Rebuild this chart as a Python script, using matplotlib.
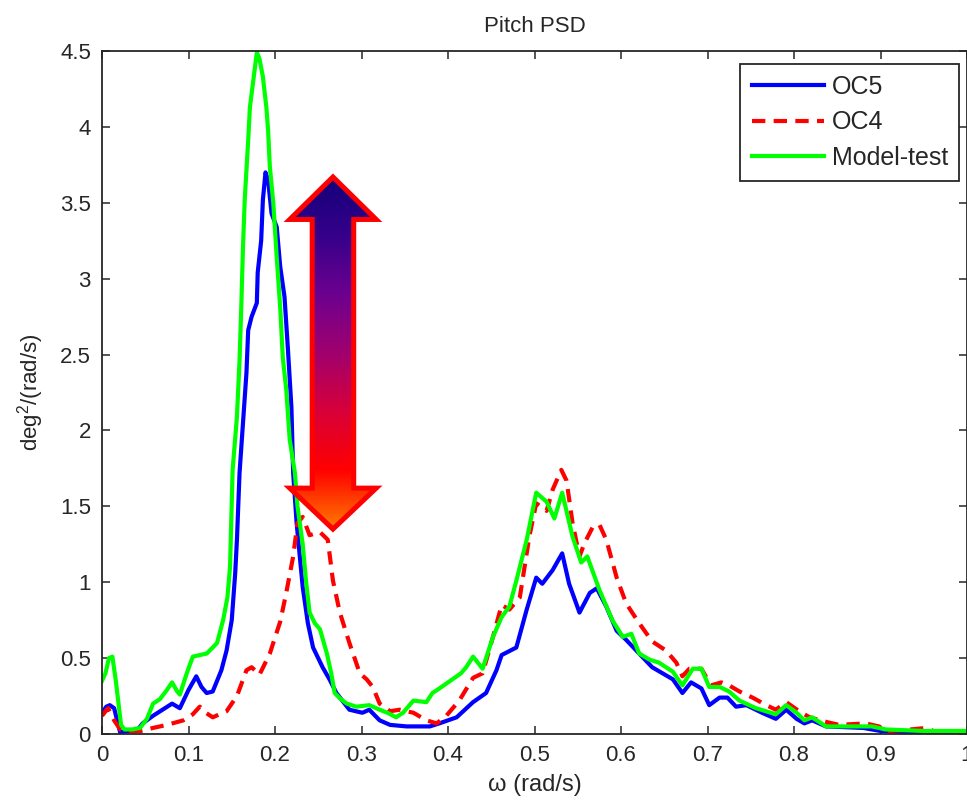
import numpy as np
import matplotlib
matplotlib.use("Agg")
import matplotlib.pyplot as plt
from matplotlib import font_manager as fm
from matplotlib.patches import Polygon
from matplotlib.colors import LinearSegmentedColormap

# OC5 (blue, solid)
oc5_w = [0.0, 0.005, 0.009, 0.014, 0.021, 0.03, 0.04, 0.047, 0.059, 0.07, 0.081, 0.09,
         0.1, 0.109, 0.115, 0.121, 0.128, 0.138, 0.144, 0.15, 0.154, 0.156, 0.159,
         0.163, 0.167, 0.169, 0.173, 0.179, 0.18, 0.184, 0.186, 0.189, 0.192, 0.196,
         0.202, 0.206, 0.211, 0.215, 0.219, 0.221, 0.225, 0.229, 0.232, 0.238, 0.244,
         0.255, 0.263, 0.271, 0.286, 0.301, 0.309, 0.321, 0.333, 0.352, 0.379, 0.39,
         0.41, 0.429, 0.444, 0.456, 0.462, 0.479, 0.491, 0.502, 0.509, 0.521, 0.532,
         0.54, 0.552, 0.564, 0.572, 0.583, 0.595, 0.606, 0.621, 0.636, 0.66, 0.671,
         0.681, 0.693, 0.702, 0.714, 0.723, 0.733, 0.745, 0.763, 0.779, 0.791, 0.803,
         0.812, 0.821, 0.837, 0.88, 0.9, 0.95, 1.0]
oc5_s = [0.14, 0.18, 0.19, 0.17, 0.01, 0.02, 0.02, 0.07, 0.12, 0.16, 0.20, 0.17,
         0.29, 0.38, 0.31, 0.27, 0.28, 0.42, 0.55, 0.75, 1.06, 1.28, 1.72,
         2.05, 2.38, 2.66, 2.75, 2.84, 3.04, 3.25, 3.52, 3.70, 3.65, 3.43,
         3.34, 3.08, 2.88, 2.53, 2.15, 1.72, 1.39, 1.15, 0.97, 0.73, 0.57,
         0.44, 0.36, 0.27, 0.16, 0.14, 0.16, 0.09, 0.06, 0.05, 0.05, 0.07,
         0.11, 0.21, 0.27, 0.42, 0.52, 0.57, 0.82, 1.03, 0.99, 1.08, 1.19,
         0.99, 0.80, 0.93, 0.96, 0.84, 0.68, 0.62, 0.53, 0.44, 0.36, 0.27,
         0.34, 0.30, 0.19, 0.24, 0.24, 0.18, 0.19, 0.14, 0.10, 0.16, 0.10,
         0.07, 0.09, 0.05, 0.04, 0.02, 0.01, 0.01]

# OC4 (red, dashed)
oc4_w = [0.0, 0.007, 0.014, 0.021, 0.03, 0.045, 0.059, 0.075, 0.094, 0.105, 0.113,
         0.12, 0.128, 0.144, 0.156, 0.167, 0.173, 0.182, 0.194, 0.206, 0.213, 0.221,
         0.226, 0.232, 0.24, 0.252, 0.261, 0.267, 0.275, 0.286, 0.298, 0.306, 0.313,
         0.321, 0.333, 0.344, 0.36, 0.375, 0.387, 0.398, 0.413, 0.429, 0.44, 0.452,
         0.462, 0.471, 0.483, 0.494, 0.502, 0.514, 0.521, 0.531, 0.537, 0.544, 0.552,
         0.558, 0.567, 0.575, 0.583, 0.595, 0.606, 0.621, 0.636, 0.652, 0.664, 0.671,
         0.679, 0.693, 0.704, 0.716, 0.725, 0.737, 0.752, 0.768, 0.779, 0.791, 0.806,
         0.818, 0.837, 0.852, 0.883, 0.898, 0.91, 0.935, 0.953, 0.965, 1.0]
oc4_s = [0.12, 0.17, 0.09, 0.03, 0.02, 0.02, 0.04, 0.06, 0.09, 0.13, 0.18,
         0.14, 0.11, 0.15, 0.25, 0.42, 0.44, 0.39, 0.53, 0.74, 0.93, 1.17,
         1.39, 1.43, 1.31, 1.33, 1.28, 1.01, 0.80, 0.60, 0.40, 0.36, 0.31,
         0.20, 0.15, 0.16, 0.14, 0.09, 0.07, 0.12, 0.22, 0.37, 0.40, 0.64,
         0.85, 0.82, 0.90, 1.30, 1.52, 1.47, 1.61, 1.74, 1.67, 1.39, 1.17,
         1.26, 1.36, 1.38, 1.28, 1.03, 0.86, 0.73, 0.61, 0.55, 0.47, 0.38,
         0.43, 0.43, 0.32, 0.34, 0.32, 0.28, 0.24, 0.19, 0.16, 0.21, 0.15,
         0.11, 0.08, 0.06, 0.07, 0.05, 0.02, 0.03, 0.04, 0.01, 0.01]

# Model-test (green, solid)
mt_w = [0.0, 0.004, 0.008, 0.012, 0.016, 0.022, 0.026, 0.035, 0.044, 0.052, 0.059,
        0.067, 0.075, 0.081, 0.087, 0.09, 0.098, 0.105, 0.113, 0.121, 0.128, 0.133,
        0.14, 0.145, 0.148, 0.151, 0.156, 0.159, 0.161, 0.163, 0.165, 0.169, 0.171,
        0.175, 0.179, 0.182, 0.186, 0.19, 0.192, 0.194, 0.198, 0.202, 0.206, 0.209,
        0.213, 0.217, 0.223, 0.226, 0.232, 0.236, 0.24, 0.246, 0.252, 0.26, 0.265,
        0.269, 0.276, 0.283, 0.294, 0.309, 0.321, 0.33, 0.34, 0.348, 0.36, 0.375,
        0.382, 0.39, 0.405, 0.415, 0.421, 0.429, 0.44, 0.452, 0.462, 0.471, 0.479,
        0.491, 0.502, 0.514, 0.523, 0.532, 0.544, 0.554, 0.561, 0.575, 0.59, 0.602,
        0.612, 0.621, 0.633, 0.644, 0.66, 0.671, 0.683, 0.693, 0.702, 0.714, 0.725,
        0.737, 0.756, 0.779, 0.791, 0.803, 0.812, 0.821, 0.837, 0.89, 0.906, 0.95, 1.0]
mt_s = [0.35, 0.40, 0.50, 0.51, 0.35, 0.06, 0.03, 0.03, 0.04, 0.10, 0.20,
        0.23, 0.29, 0.34, 0.28, 0.26, 0.40, 0.51, 0.52, 0.53, 0.57, 0.60,
        0.75, 0.90, 1.10, 1.74, 2.09, 2.46, 2.81, 3.21, 3.52, 3.91, 4.13,
        4.31, 4.49, 4.45, 4.33, 4.13, 3.98, 3.74, 3.50, 3.14, 2.81, 2.48,
        2.27, 1.94, 1.72, 1.50, 1.25, 1.00, 0.80, 0.73, 0.69, 0.53, 0.40,
        0.27, 0.23, 0.20, 0.18, 0.19, 0.16, 0.14, 0.11, 0.14, 0.22, 0.21,
        0.27, 0.30, 0.36, 0.40, 0.44, 0.51, 0.43, 0.64, 0.77, 0.84, 1.01,
        1.28, 1.59, 1.53, 1.42, 1.59, 1.30, 1.13, 1.17, 0.95, 0.75, 0.64,
        0.66, 0.53, 0.49, 0.47, 0.41, 0.32, 0.43, 0.43, 0.31, 0.31, 0.28,
        0.22, 0.17, 0.13, 0.19, 0.14, 0.09, 0.11, 0.05, 0.05, 0.03, 0.02, 0.02]

x_ticks = np.arange(0, 1.01, 0.1)
x_labels = ["0", "0.1", "0.2", "0.3", "0.4", "0.5", "0.6", "0.7", "0.8", "0.9", "1"]
y_ticks = np.arange(0, 4.51, 0.5)
y_labels = ["0", "0.5", "1", "1.5", "2", "2.5", "3", "3.5", "4", "4.5"]

# narrow font looks closest to the MATLAB export
try:
    fm.findfont("Liberation Sans Narrow", fallback_to_default=False)
    FONT, FS = "Liberation Sans Narrow", 20
except ValueError:
    FONT, FS = "Liberation Sans", 16

plt.rcParams["font.family"] = [FONT, "DejaVu Sans"]
plt.rcParams["mathtext.fontset"] = "custom"
plt.rcParams["mathtext.rm"] = FONT
plt.rcParams["mathtext.it"] = FONT

fig = plt.figure(figsize=(9.67, 8.07), dpi=100)
ax = fig.add_axes([102 / 967, 73 / 807, 865 / 967, 683 / 807])

ax.plot(oc5_w, oc5_s, color="#0000ff", lw=3, label="OC5")
ax.plot(oc4_w, oc4_s, color="#ff0000", lw=3, dashes=(3.2, 2.0), label="OC4")
ax.plot(mt_w, mt_s, color="#00ff00", lw=3, label="Model-test")

ax.set_xlim(0, 1)
ax.set_ylim(0, 4.5)
ax.set_xticks(x_ticks)
ax.set_xticklabels(x_labels)
ax.set_yticks(y_ticks)
ax.set_yticklabels(y_labels)
ax.tick_params(direction="in", length=6, width=1.1, top=True, right=True,
               labelsize=FS, colors="#262626", pad=8)
for sp in ax.spines.values():
    sp.set_color("#262626")
    sp.set_linewidth(1.3)

ax.set_title("Pitch PSD", fontsize=FS, color="#262626", pad=14)
ax.set_xlabel("ω (rad/s)", fontsize=FS + 1, color="#262626", labelpad=6)
ax.set_ylabel("deg$^2$/(rad/s)", fontsize=FS, color="#262626", labelpad=10)

leg = ax.legend(loc="upper right", bbox_to_anchor=(0.991, 0.981), fontsize=FS + 2,
                fancybox=False, framealpha=1, edgecolor="#262626",
                handlelength=2.9, handletextpad=0.3, borderpad=0.45,
                labelspacing=0.45, borderaxespad=0)
leg.get_frame().set_linewidth(1.3)
for t in leg.get_texts():
    t.set_color("#262626")

# gradient double arrow
cx, hw, sw = 0.267, 0.05, 0.024
y_top, y_hb1, y_hb2, y_bot = 3.67, 3.39, 1.62, 1.35
arrow_xy = [(cx, y_top), (cx + hw, y_hb1), (cx + sw, y_hb1), (cx + sw, y_hb2),
            (cx + hw, y_hb2), (cx, y_bot), (cx - hw, y_hb2), (cx - sw, y_hb2),
            (cx - sw, y_hb1), (cx - hw, y_hb1)]
arrow = Polygon(arrow_xy, closed=True, facecolor="none", edgecolor="#ff0000",
                lw=3.6, joinstyle="miter", zorder=6)
ax.add_patch(arrow)
cmap = LinearSegmentedColormap.from_list(
    "arr", ["#ff7a00", "#ff0000", "#d8003a", "#a0006e", "#6c008f", "#35008a", "#14007a"])
grad = np.linspace(0, 1, 256).reshape(-1, 1)
img = ax.imshow(grad, cmap=cmap, origin="lower", aspect="auto",
                extent=(cx - hw, cx + hw, y_bot, y_top), zorder=5)
img.set_clip_path(arrow)
ax.set_xlim(0, 1)
ax.set_ylim(0, 4.5)

fig.savefig("out.png", dpi=100)
